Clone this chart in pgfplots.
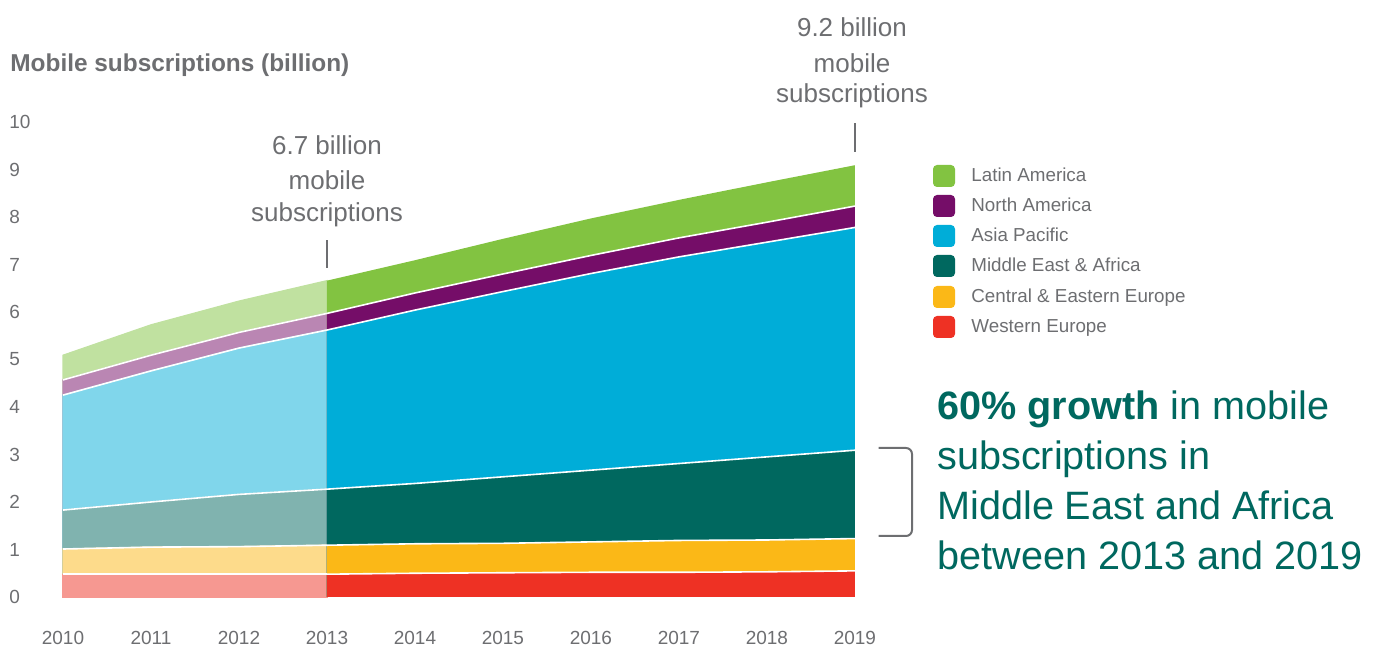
\documentclass[border=0pt]{standalone}
\usepackage{fontspec}
\setmainfont{Liberation Sans}
\usepackage{pgfplots}
\usepackage{pgfplotstable}
\pgfplotsset{compat=1.18}

\definecolor{txtgray}{HTML}{6D6E71}
\definecolor{la}{HTML}{82C341}
\definecolor{na}{HTML}{750D68}
\definecolor{ap}{HTML}{00ADD8}
\definecolor{mea}{HTML}{00685F}
\definecolor{cee}{HTML}{FBB817}
\definecolor{we}{HTML}{EE3124}

% cumulative tops of each band (billion), bottom to top
\pgfplotstableread{
year we   cee  mea  ap   na   la
2010 0.48 1.01 1.83 4.25 4.57 5.09
2011 0.48 1.05 2.00 4.76 5.09 5.73
2012 0.48 1.06 2.16 5.24 5.57 6.23
2013 0.48 1.09 2.27 5.62 5.97 6.66
}\past
\pgfplotstableread{
year we   cee  mea  ap   na   la
2013 0.48 1.09 2.27 5.62 5.97 6.66
2014 0.50 1.12 2.39 6.04 6.40 7.09
2015 0.51 1.13 2.53 6.43 6.80 7.54
2016 0.52 1.16 2.67 6.81 7.19 7.97
2017 0.52 1.19 2.81 7.16 7.56 8.36
2018 0.53 1.20 2.95 7.47 7.89 8.73
2019 0.55 1.23 3.09 7.78 8.23 9.09
}\future

\begin{document}
\begin{tikzpicture}
\useasboundingbox (0pt,0pt) rectangle (694.5pt,323pt);

\node[anchor=base west, inner sep=0pt, text=txtgray,
  font=\bfseries\fontsize{12.2}{14}\selectfont] at (5pt,287pt) {Mobile subscriptions (billion)};

\begin{axis}[
  at={(31.5pt,24.5pt)}, anchor=south west,
  scale only axis, width=396pt, height=237.5pt,
  xmin=2010, xmax=2019, ymin=0, ymax=10,
  clip=false,
  axis line style={draw=none},
  major tick length=0pt,
  xtick={2010,...,2019}, ytick={0,...,10},
  /pgf/number format/assume math mode=true,
  xticklabel style={/pgf/number format/1000 sep={}, anchor=center, yshift=-20.25pt,
    inner sep=0pt, text=txtgray, font=\fontsize{9.5}{11}\selectfont},
  yticklabel style={anchor=west, xshift=-27pt, inner sep=0pt,
    text=txtgray, font=\fontsize{9.5}{11}\selectfont},
  past/.style={fill=#1!50!white, draw=#1!50!white, line width=0.6pt},
]
% 2010-2013, lighter
\addplot[past=la] table[x=year,y=la]{\past} \closedcycle;
\addplot[past=na] table[x=year,y=na]{\past} \closedcycle;
\addplot[past=ap] table[x=year,y=ap]{\past} \closedcycle;
\addplot[past=mea] table[x=year,y=mea]{\past} \closedcycle;
\addplot[past=cee] table[x=year,y=cee]{\past} \closedcycle;
\addplot[past=we] table[x=year,y=we]{\past} \closedcycle;
% 2013-2019
\addplot[fill=la, draw=none] table[x=year,y=la]{\future} \closedcycle;
\addplot[fill=na, draw=none] table[x=year,y=na]{\future} \closedcycle;
\addplot[fill=ap, draw=none] table[x=year,y=ap]{\future} \closedcycle;
\addplot[fill=mea, draw=none] table[x=year,y=mea]{\future} \closedcycle;
\addplot[fill=cee, draw=none] table[x=year,y=cee]{\future} \closedcycle;
\addplot[fill=we, draw=none] table[x=year,y=we]{\future} \closedcycle;
% white separators
\addplot[white, line width=0.8pt] table[x=year,y=na]{\past};
\addplot[white, line width=0.8pt] table[x=year,y=ap]{\past};
\addplot[white, line width=0.8pt] table[x=year,y=mea]{\past};
\addplot[white, line width=0.8pt] table[x=year,y=cee]{\past};
\addplot[white, line width=0.8pt] table[x=year,y=we]{\past};
\addplot[white, line width=0.8pt] table[x=year,y=na]{\future};
\addplot[white, line width=0.8pt] table[x=year,y=ap]{\future};
\addplot[white, line width=0.8pt] table[x=year,y=mea]{\future};
\addplot[white, line width=0.8pt] table[x=year,y=cee]{\future};
\addplot[white, line width=0.8pt] table[x=year,y=we]{\future};

% annotations
\begin{scope}[every node/.style={anchor=base, inner sep=0pt, text=txtgray,
    font=\fontsize{13}{15}\selectfont}]
\node at (axis cs:2013,9.316) {6.7 billion};
\node at (axis cs:2013,8.589) {mobile};
\node at (axis cs:2013,7.895) {subscriptions};
\node[xshift=-1.5pt] at (axis cs:2019,11.79) {9.2 billion};
\node[xshift=-1.5pt] at (axis cs:2019,11.05) {mobile};
\node[xshift=-1.5pt] at (axis cs:2019,10.40) {subscriptions};
\end{scope}
\draw[txtgray, line width=1pt] (axis cs:2013,6.93) -- (axis cs:2013,7.52);
\draw[txtgray, line width=1pt] (axis cs:2019,9.37) -- (axis cs:2019,9.98);
\end{axis}

% bracket
\draw[txtgray, line width=1pt, rounded corners=3pt]
  (439.25pt,99pt) -- (456pt,99pt) -- (456pt,55pt) -- (439.25pt,55pt);

% legend
\begin{scope}[every node/.style={anchor=base west, inner sep=0pt, text=txtgray,
    font=\fontsize{9.4}{11}\selectfont}]
\fill[la, rounded corners=2pt] (466.5pt,229.5pt) rectangle ++(11pt,11pt);
\node at (485.5pt,232pt) {Latin America};
\fill[na, rounded corners=2pt] (466.5pt,214.5pt) rectangle ++(11pt,11pt);
\node at (485.5pt,217pt) {North America};
\fill[ap, rounded corners=2pt] (466.5pt,199.5pt) rectangle ++(11pt,11pt);
\node at (485.5pt,202pt) {Asia Pacific};
\fill[mea, rounded corners=2pt] (466.5pt,184.5pt) rectangle ++(11pt,11pt);
\node at (485.5pt,187pt) {Middle East \& Africa};
\fill[cee, rounded corners=2pt] (466.5pt,169pt) rectangle ++(11pt,11pt);
\node at (485.5pt,171.5pt) {Central \& Eastern Europe};
\fill[we, rounded corners=2pt] (466.5pt,154pt) rectangle ++(11pt,11pt);
\node at (485.5pt,156.5pt) {Western Europe};
\end{scope}

% callout
\begin{scope}[every node/.style={anchor=base west, inner sep=0pt, text=mea,
    font=\fontsize{19.8}{25}\selectfont}]
\node at (468.5pt,113pt) {\textbf{60\% growth} in mobile};
\node at (468.5pt,88pt) {subscriptions in};
\node at (468.5pt,63pt) {Middle East and Africa};
\node at (468.5pt,38pt) {between 2013 and 2019};
\end{scope}
\end{tikzpicture}
\end{document}
